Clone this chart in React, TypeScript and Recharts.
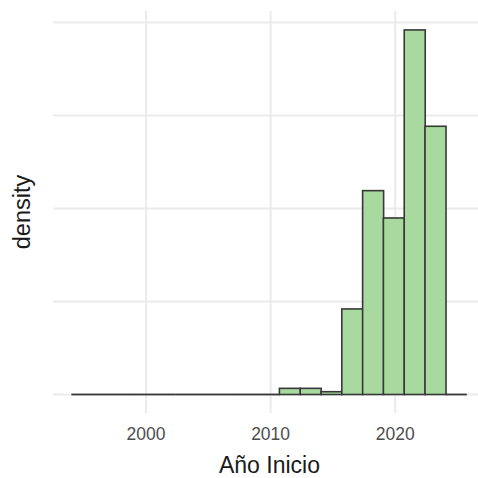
import React from "react";
import { BarChart, Bar, XAxis, YAxis, CartesianGrid } from "recharts";

// bin midpoints (years) and density per bin
const BIN_MIDS = [
  1994.84, 1996.51, 1998.18, 1999.85, 2001.52, 2003.19, 2004.86, 2006.53, 2008.2, 2009.87,
  2011.54, 2013.21, 2014.88, 2016.55, 2018.22, 2019.89, 2021.56, 2023.23, 2024.9,
];
const DENSITY = [
  0, 0, 0, 0, 0, 0, 0, 0, 0, 0,
  0.0033, 0.0033, 0.0015, 0.046, 0.1096, 0.0949, 0.196, 0.1442, 0,
];
const X_TICKS = [2000, 2010, 2020];
const Y_TICKS = [0, 0.05, 0.1, 0.15, 0.2];

const data = BIN_MIDS.map((year, i) => ({ year, density: DENSITY[i] }));

const FONT = "'Liberation Sans', Arial, sans-serif";
const FILL = "#a8da9f";
const EDGE = "#383838";

function HistBar(props: any) {
  const { x, y, width, height } = props;
  if (!height) {
    return <line x1={x} x2={x + width} y1={y} y2={y} stroke={EDGE} strokeWidth={1.8} />;
  }
  return (
    <rect x={x} y={y} width={width} height={height} fill={FILL} stroke={EDGE} strokeWidth={1.6} />
  );
}

export default function App() {
  return (
    <div
      style={{
        position: "absolute",
        left: 0,
        top: 0,
        width: 478,
        height: 478,
        overflow: "hidden",
        background: "#fff",
      }}
    >
      <BarChart
        width={490}
        height={478}
        data={data}
        margin={{ top: 11, right: 4, bottom: 0, left: 0 }}
        barCategoryGap={0}
        barGap={0}
      >
        <CartesianGrid stroke="#ebebeb" strokeWidth={2} syncWithTicks />
        <XAxis
          dataKey="year"
          type="number"
          domain={[1992.53, 2027.29]}
          allowDataOverflow
          ticks={X_TICKS}
          height={65}
          axisLine={false}
          tickLine={false}
          tickSize={0}
          tickMargin={15}
          tick={{ fill: "#4d4d4d", fontSize: 17.5, fontFamily: FONT }}
          label={{
            value: "Año Inicio",
            position: "insideBottom",
            offset: 5,
            fill: "#1a1a1a",
            fontSize: 23,
            fontFamily: FONT,
          }}
        />
        <YAxis
          type="number"
          domain={[-0.00995, 0.20618]}
          allowDataOverflow
          ticks={Y_TICKS}
          interval={0}
          width={53}
          axisLine={false}
          tickLine={false}
          tick={() => <g />}
          label={{
            content: () => (
              <text
                x={30}
                y={212}
                transform="rotate(-90 30 212)"
                textAnchor="middle"
                fill="#1a1a1a"
                fontSize={23.5}
                fontFamily={FONT}
              >
                density
              </text>
            ),
          }}
        />
        <Bar dataKey="density" shape={HistBar} isAnimationActive={false} />
      </BarChart>
    </div>
  );
}
